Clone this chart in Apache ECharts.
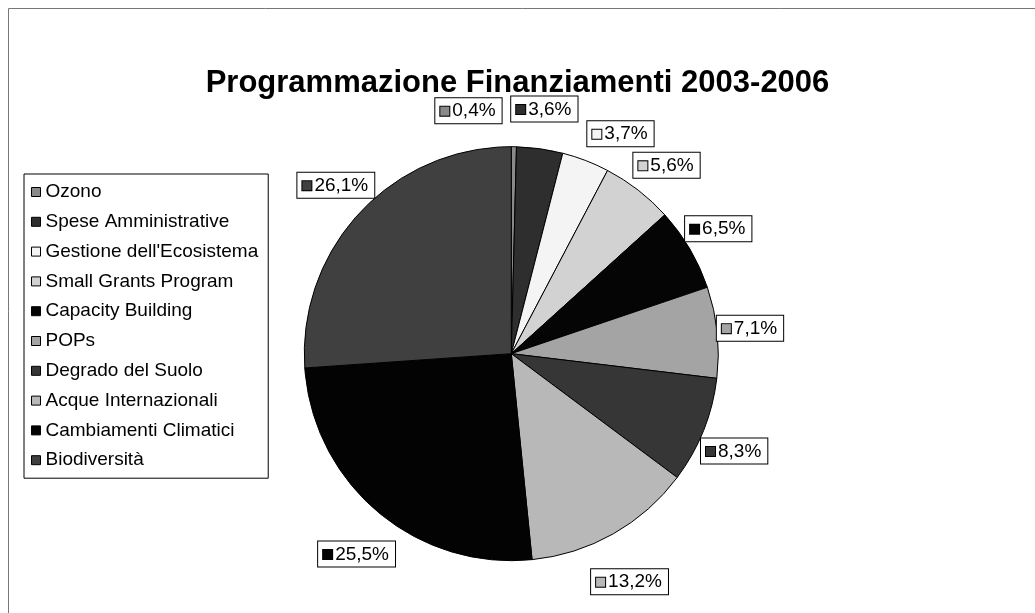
<!DOCTYPE html>
<html>
<head>
<meta charset="utf-8">
<script src="https://cdn.jsdelivr.net/npm/echarts@6/dist/echarts.min.js"></script>
<style>
html,body{margin:0;padding:0;background:#fff;}
#chart{width:1035px;height:613px;}
</style>
</head>
<body>
<div id="chart"></div>
<script>
const titleText = 'Programmazione Finanziamenti 2003-2006';
const categories = ['Ozono','Spese Amministrative',"Gestione dell'Ecosistema",'Small Grants Program','Capacity Building','POPs','Degrado del Suolo','Acque Internazionali','Cambiamenti Climatici','Biodiversità'];
const values = [0.4, 3.6, 3.7, 5.6, 6.5, 7.1, 8.3, 13.2, 25.5, 26.1];
const colors = ['#8a8a8a','#2e2e2e','#f4f4f4','#d2d2d2','#050505','#a4a4a4','#363636','#b8b8b8','#030303','#404040'];

const FONT = '"Liberation Sans", Arial, sans-serif';
const LABEL_FS = 19;
const CX = 0.494, CY = 0.577, RADIUS = 207;
const DIST_X = 240, DIST_UP = 247, DIST_DOWN = 262;
const PAD = [2,6,1,5];

function fmt(v){ return v.toFixed(1).replace('.', ',') + '%'; }

const rich = {t:{fontSize:LABEL_FS,fontFamily:FONT,color:'#000',padding:[0,0,0,3],lineHeight:22}};
colors.forEach((c,i)=>{ rich['s'+i] = {width:9,height:9,backgroundColor:c,borderColor:'#000',borderWidth:1}; });

const chart = echarts.init(document.getElementById('chart'));

// label placement: outside the pie along each slice's mid-angle, nudged to avoid overlaps
let boxes = null;
function computeBoxes(){
  const W = chart.getWidth(), H = chart.getHeight();
  const cx = W*CX, cy = H*CY;
  const ctx = document.createElement('canvas').getContext('2d');
  ctx.font = LABEL_FS + 'px ' + FONT;
  const total = values.reduce((a,b)=>a+b,0);
  let cum = 0;
  const bs = values.map((v)=>{
    const ang = (cum + v/2)/total*Math.PI*2; cum += v;
    const w = PAD[3] + 11 + 3 + ctx.measureText(fmt(v)).width + PAD[1] + 2;
    const h = 22 + PAD[0] + PAD[2] + 2;
    return {ang, w, h};
  });
  const pos = b => {
    const c = Math.cos(b.ang);
    b.x = cx + DIST_X*Math.sin(b.ang);
    b.y = cy - (c >= 0 ? DIST_UP : DIST_DOWN)*c;
  };
  bs.forEach(pos);
  const m = 4;
  const ov = (a,b) => Math.abs(a.x-b.x) < (a.w+b.w)/2 + m && Math.abs(a.y-b.y) < (a.h+b.h)/2 + m;
  const step = Math.PI/360;
  let k = 0;
  while (ov(bs[0], bs[1]) && k++ < 200){ bs[0].ang -= step; pos(bs[0]); }
  for (let i=2;i<bs.length;i++){
    k = 0;
    while (ov(bs[i], bs[i-1]) && k++ < 200){ bs[i].ang += step; pos(bs[i]); }
  }
  return bs;
}

chart.setOption({
  backgroundColor:'#fff',
  animation:false,
  graphic:[{type:'rect',shape:{x:8.5,y:8.5,width:1200,height:800},style:{fill:'none',stroke:'#777',lineWidth:1}}],
  title:{text:titleText,left:'center',top:63,textStyle:{fontFamily:FONT,fontSize:31,fontWeight:'bold',color:'#000'}},
  legend:{
    orient:'vertical',left:24,top:174,
    data:categories,
    itemWidth:9,itemHeight:9,itemGap:9.8,
    icon:'rect',
    padding:[8,10,8,7],
    borderColor:'#000',borderWidth:1,
    itemStyle:{borderColor:'#000',borderWidth:1},
    textStyle:{fontFamily:FONT,fontSize:19,color:'#000',lineHeight:20},
    selectedMode:false
  },
  series:[{
    type:'pie',
    center:[(CX*100)+'%',(CY*100)+'%'],
    radius:RADIUS,
    startAngle:90,
    clockwise:true,
    avoidLabelOverlap:false,
    data:categories.map((n,i)=>({name:n,value:values[i],itemStyle:{color:colors[i]}})),
    itemStyle:{borderColor:'#000',borderWidth:1},
    label:{
      show:true,position:'outside',
      formatter:(p)=>'{s'+p.dataIndex+'|}{t|'+fmt(values[p.dataIndex])+'}',
      rich:rich,
      backgroundColor:'#fff',borderColor:'#000',borderWidth:1,padding:PAD
    },
    labelLine:{show:false},
    labelLayout:function(params){
      if (!boxes) boxes = computeBoxes();
      const b = boxes[params.dataIndex];
      return {x:b.x, y:b.y, align:'center', verticalAlign:'middle'};
    },
    emphasis:{disabled:true}
  }]
});
</script>
</body>
</html>
